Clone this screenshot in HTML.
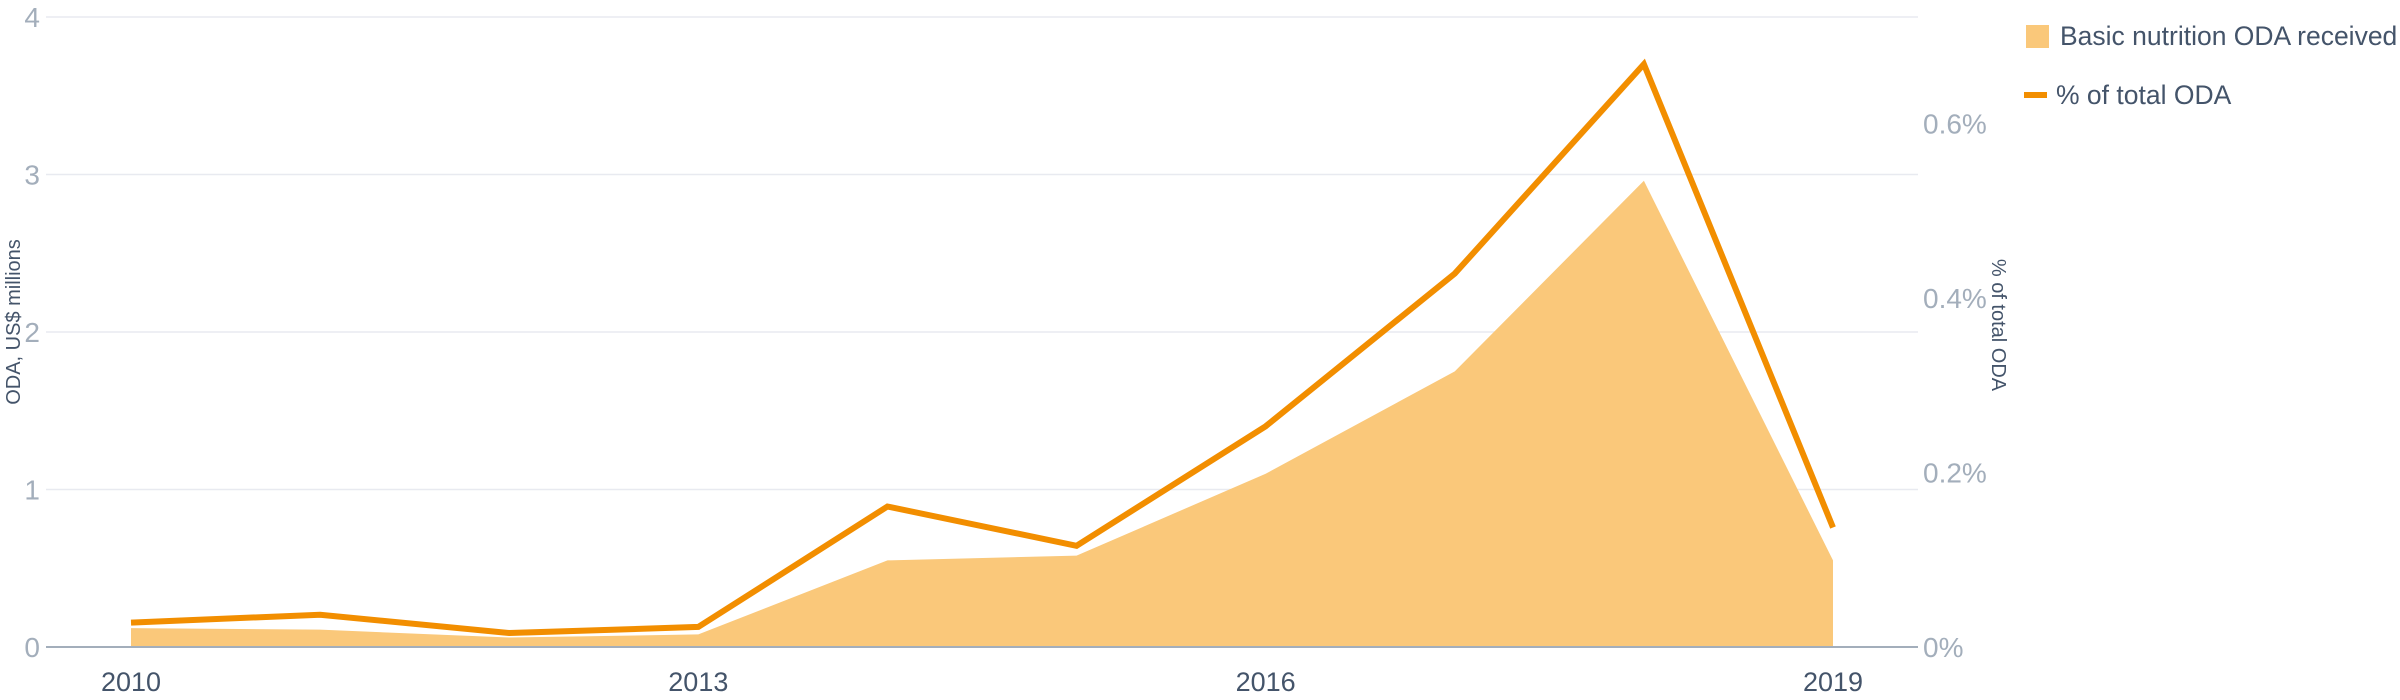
<!DOCTYPE html>
<html><head><meta charset="utf-8"><style>
html,body{margin:0;padding:0;background:#fff;}
svg{display:block;font-family:"Liberation Sans",sans-serif;}
</style></head><body>
<svg id="chart" width="2400" height="700" viewBox="0 0 2400 700">
<g id="grid"></g>
<g id="area"></g>
<g id="line"></g>
<g id="axes"></g>
<text x="13" y="322" dy="7" transform="rotate(-90 13 322)" text-anchor="middle" font-size="20" fill="#44546a">ODA, US$ millions</text>
<text x="1992" y="325" transform="rotate(90 1992 325)" text-anchor="middle" font-size="20" fill="#44546a">% of total ODA</text>
<g>
<g>
<rect x="2026" y="25" width="23" height="23" fill="#fac87a"></rect>
<text x="2060" y="45" font-size="26.5" fill="#44546a">Basic nutrition ODA received</text>
</g>
<g>
<rect x="2024" y="92" width="23" height="6" fill="#f28e00"></rect>
<text x="2056" y="104" font-size="26.5" fill="#44546a">% of total ODA</text>
</g>
</g>
</svg>
<script>
const years = [2010,2011,2012,2013,2014,2015,2016,2017,2018,2019];
const odaValues = [0.12,0.11,0.06,0.08,0.55,0.58,1.10,1.75,2.96,0.55];
const pctValues = [0.028,0.037,0.016,0.023,0.161,0.116,0.253,0.428,0.668,0.137];
const leftTicks = [0,1,2,3,4];
const rightTicks = [0,0.2,0.4,0.6];
const rightTickLabels = ["0%","0.2%","0.4%","0.6%"];
const xTickYears = [2010,2013,2016,2019];

const NS="http://www.w3.org/2000/svg";
const x0=131, x1=1833, yBase=647, yTop=17, plotL=46, plotR=1918;
const xS=y=>x0+(y-years[0])*(x1-x0)/(years[years.length-1]-years[0]);
const yL=v=>yBase-v*(yBase-yTop)/4;
const yR=v=>yBase-v*872.5;
function mk(t,a,p){const e=document.createElementNS(NS,t);for(const k in a)e.setAttribute(k,a[k]);p.appendChild(e);return e;}
const grid=document.getElementById('grid'),axes=document.getElementById('axes');
leftTicks.forEach(v=>{
  if(v>0){const g=mk('line',{x1:plotL,x2:plotR,y1:yL(v),y2:yL(v),stroke:'#e8eaf0','stroke-width':1.5},grid);
  
  }
  const t=mk('text',{x:40,y:yL(v)+10,'text-anchor':'end','font-size':28,fill:'#a3aebb'},axes);
  t.textContent=v;
  
  
});
rightTicks.forEach((v,i)=>{
  const t=mk('text',{x:1923,y:yR(v)+10,'font-size':28,fill:'#a3aebb'},axes);
  t.textContent=rightTickLabels[i];
  
  
});
xTickYears.forEach(y=>{
  const t=mk('text',{x:xS(y),y:691,'text-anchor':'middle','font-size':27,fill:'#44546a'},axes);
  t.textContent=y;
  
  
});
const bl=mk('line',{x1:plotL,x2:plotR,y1:yBase,y2:yBase,stroke:'#a3aebb','stroke-width':2},axes);


let d='M'+xS(years[0])+','+yBase;
years.forEach((y,i)=>{d+=' L'+xS(y)+','+yL(odaValues[i]);});
d+=' L'+xS(years[years.length-1])+','+yBase+' Z';
const ar=mk('path',{d:d,fill:'#fac87a'},document.getElementById('area'));


const pts=years.map((y,i)=>xS(y)+','+yR(pctValues[i])).join(' ');
const ln=mk('polyline',{points:pts,fill:'none',stroke:'#f28e00','stroke-width':6,'stroke-linejoin':'miter'},document.getElementById('line'));


</script>
</body></html>
